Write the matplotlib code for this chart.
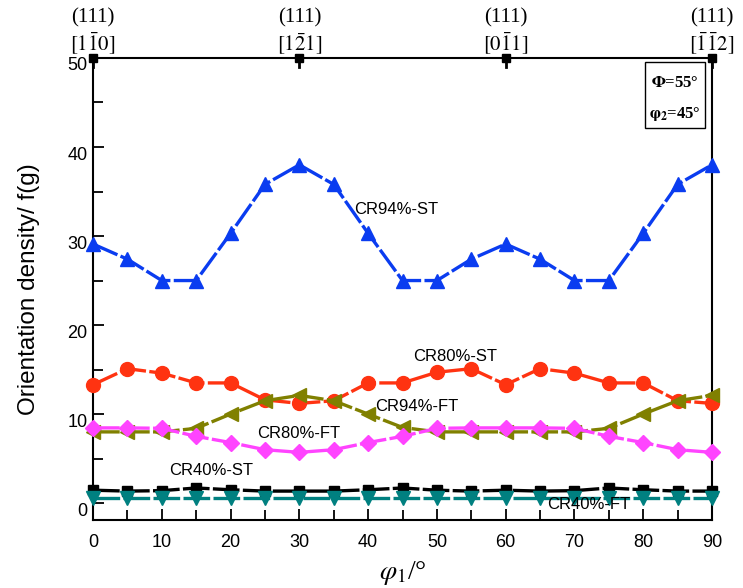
import numpy as np
import matplotlib
matplotlib.use('Agg')
import matplotlib.pyplot as plt
import matplotlib.transforms as mtransforms
from matplotlib.patches import Rectangle
from matplotlib.ticker import MultipleLocator

plt.rcParams['font.family'] = ['Liberation Sans', 'DejaVu Sans']
plt.rcParams['mathtext.fontset'] = 'stix'

# dane
phi1 = [0, 5, 10, 15, 20, 25, 30, 35, 40, 45, 50, 55, 60, 65, 70, 75, 80, 85, 90]

cr94_st = [29.1, 27.4, 25.0, 25.0, 30.3, 35.8, 38.0, 35.8, 30.3, 25.0,
           25.0, 27.4, 29.1, 27.4, 25.0, 25.0, 30.3, 35.8, 38.0]
cr80_st = [13.3, 15.1, 14.6, 13.5, 13.5, 11.6, 11.2, 11.5, 13.5, 13.5,
           14.7, 15.1, 13.3, 15.1, 14.6, 13.5, 13.5, 11.5, 11.2]
cr94_ft = [8.0, 8.0, 8.0, 8.4, 10.0, 11.5, 12.1, 11.5, 10.0, 8.5,
           8.0, 8.0, 8.0, 8.0, 8.0, 8.4, 10.0, 11.5, 12.1]
cr80_ft = [8.45, 8.45, 8.4, 7.5, 6.8, 6.0, 5.7, 6.0, 6.8, 7.5,
           8.4, 8.45, 8.45, 8.45, 8.4, 7.5, 6.8, 6.0, 5.7]
cr40_st = [1.45, 1.35, 1.4, 1.7, 1.5, 1.35, 1.35, 1.35, 1.5, 1.7,
           1.45, 1.35, 1.45, 1.35, 1.4, 1.7, 1.5, 1.35, 1.35]
cr40_ft = [0.55, 0.55, 0.55, 0.55, 0.55, 0.55, 0.55, 0.55, 0.55, 0.55,
           0.55, 0.55, 0.55, 0.55, 0.55, 0.55, 0.55, 0.55, 0.55]

top_pos = [0, 30, 60, 90]
top_line1 = ['(111)', '(111)', '(111)', '(111)']
top_line2 = [r'$[1\bar{1}0]$', r'$[1\bar{2}1]$', r'$[0\bar{1}1]$', r'$[\bar{1}\bar{1}2]$']

fig = plt.figure(figsize=(7.43, 5.88), dpi=100)
ax = fig.add_axes([0.1252, 0.1156, 0.8331, 0.7858])

lw = 2.4
dash = (0, (8, 1.0))
ax.plot(phi1, cr94_st, color='#0a3cf0', marker='^', markersize=10, lw=lw, linestyle=dash, clip_on=False, zorder=3)
ax.plot(phi1, cr80_st, color='#ff3311', marker='o', markersize=10, lw=lw, linestyle=dash, clip_on=False, zorder=3)
ax.plot(phi1, cr94_ft, color='#808000', marker='<', markersize=10, lw=lw, linestyle=dash, clip_on=False, zorder=3)
ax.plot(phi1, cr80_ft, color='#ff44ff', marker='D', markersize=8, lw=lw, linestyle=dash, clip_on=False, zorder=3)
ax.plot(phi1, cr40_st, color='black', marker='s', markersize=7.5, lw=lw, linestyle=dash, clip_on=False, zorder=3)
ax.plot(phi1, cr40_ft, color='#008080', marker='v', markersize=10, lw=lw, linestyle=dash, clip_on=False, zorder=3)

# podpisy krzywych
ax.text(38.0, 33.0, 'CR94%-ST', fontsize=12, va='center')
ax.text(46.5, 16.5, 'CR80%-ST', fontsize=12, va='center')
ax.text(41.0, 10.8, 'CR94%-FT', fontsize=12, va='center')
ax.text(23.8, 7.8, 'CR80%-FT', fontsize=12, va='center')
ax.text(11.0, 3.7, 'CR40%-ST', fontsize=12, va='center')
ax.text(66.0, -0.2, 'CR40%-FT', fontsize=12, va='center')

ax.set_xlim(0, 90)
ax.set_ylim(-1.9, 50)
ax.xaxis.set_major_locator(MultipleLocator(10))
ax.xaxis.set_minor_locator(MultipleLocator(5))
ax.yaxis.set_major_locator(MultipleLocator(10))
ax.yaxis.set_minor_locator(MultipleLocator(5))
ax.tick_params(which='both', direction='in', top=False, right=False, labelsize=13, width=1.3)
ax.tick_params(which='major', length=8)
ax.tick_params(which='minor', length=7)
ax.tick_params(axis='x', pad=10)
ax.tick_params(axis='y', pad=4)
for s in ax.spines.values():
    s.set_linewidth(1.5)

# etykiety osi Y lekko przesuniete w dol, jak w oryginale
przesuniecie = mtransforms.ScaledTranslation(0, -6 / 100, fig.dpi_scale_trans)
for lab in ax.get_yticklabels():
    lab.set_transform(lab.get_transform() + przesuniecie)

ax.set_xlabel(r'$\varphi_1$/°', fontsize=20, family='Liberation Serif', labelpad=6)
ax.set_ylabel('Orientation density/ f(g)', fontsize=17.5, labelpad=20)

# gorna os z orientacjami
ax.plot(top_pos, [50] * len(top_pos), linestyle='none', marker='s', color='black', markersize=6, clip_on=False, zorder=5)
for p in top_pos:
    ax.plot([p, p], [50, 49], color='black', lw=2, clip_on=False, zorder=5)
for p, l1, l2 in zip(top_pos, top_line1, top_line2):
    ax.text(p, 1.087, l1, transform=ax.get_xaxis_transform(), ha='center', va='center',
            fontsize=15, family='Liberation Serif')
    ax.text(p, 1.030, l2, transform=ax.get_xaxis_transform(), ha='center', va='center',
            fontsize=15)

# ramka z katami
ax.add_patch(Rectangle((0.892, 0.848), 0.097, 0.143, transform=ax.transAxes,
                       fill=False, edgecolor='black', lw=1.0, zorder=4))
ax.text(0.94, 0.945, r'$\mathbf{\Phi}$=55°', transform=ax.transAxes, ha='center', va='center',
        fontsize=12, family='Liberation Serif', fontweight='bold')
ax.text(0.94, 0.878, r'$\mathbf{\varphi_2}$=45°', transform=ax.transAxes, ha='center', va='center',
        fontsize=12, family='Liberation Serif', fontweight='bold')

fig.savefig('out.png', dpi=100)
